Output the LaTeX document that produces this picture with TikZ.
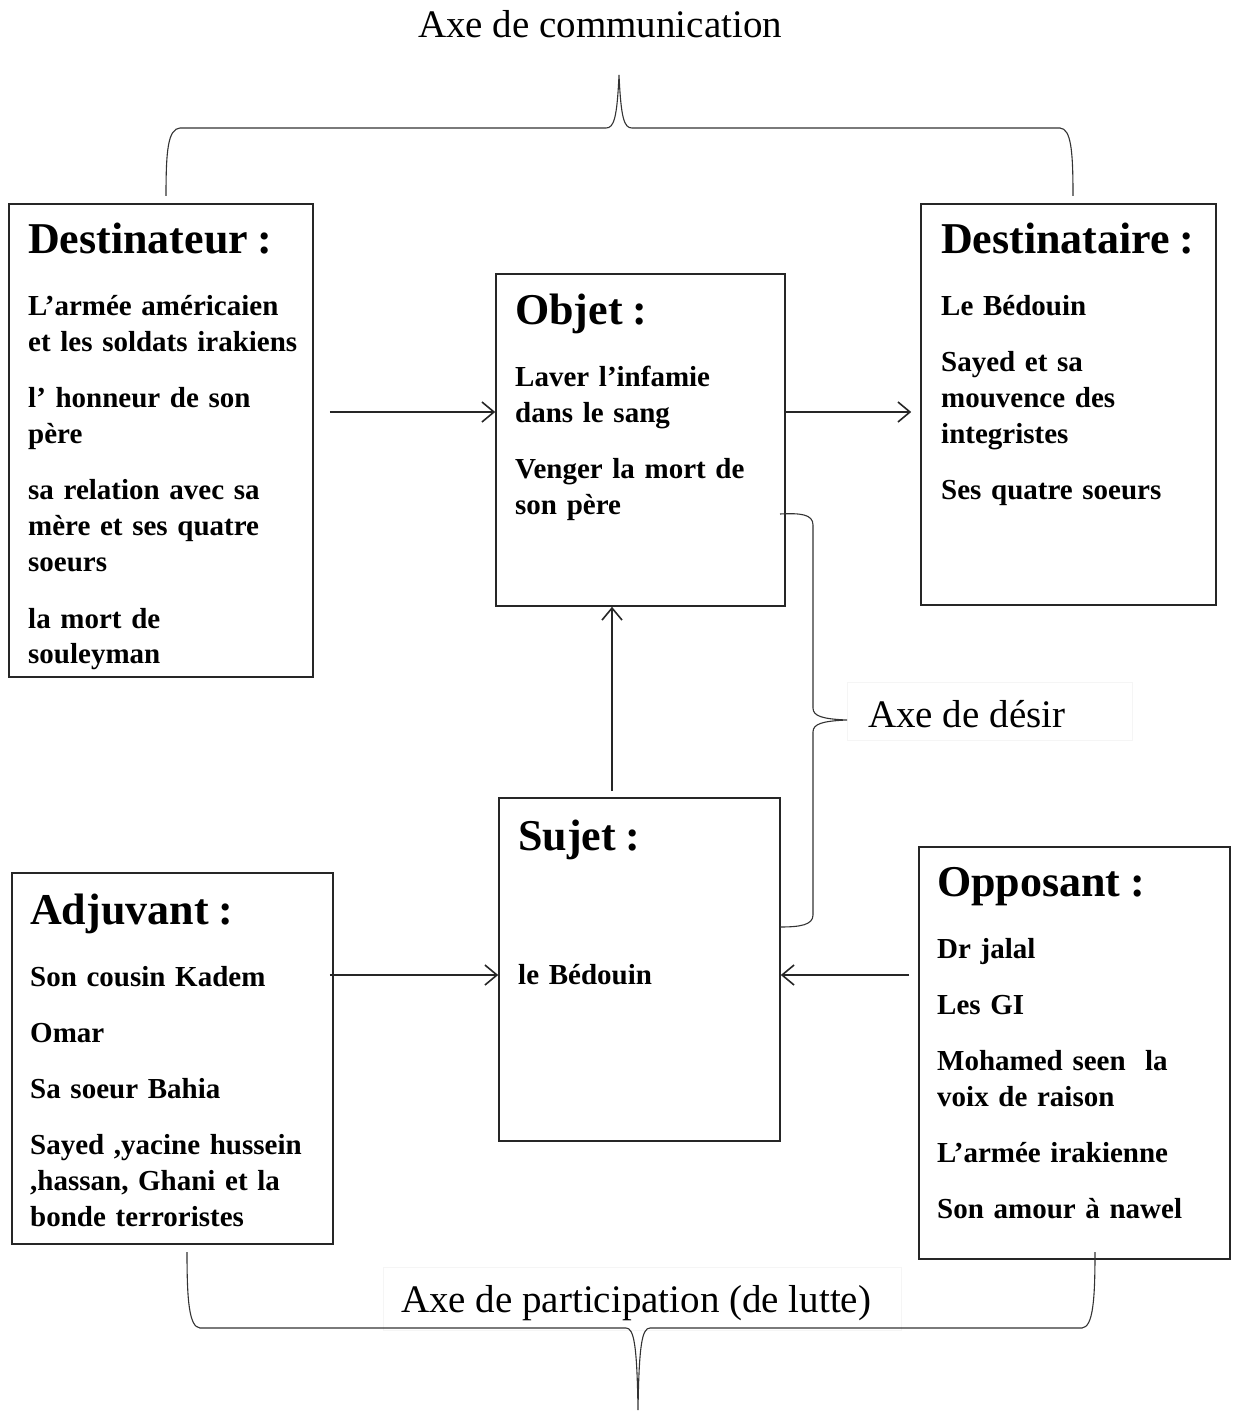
\documentclass[tikz,border=0pt]{standalone}
\usepackage{fontspec}
\setmainfont{Liberation Serif}[BoldFeatures={WordSpace=0.8}]
\usetikzlibrary{arrows.meta,calc}
\newcommand{\ttl}{\fontsize{44}{44}\selectfont\bfseries}
\newcommand{\bodyf}{\fontsize{29}{36}\selectfont\bfseries}
\newcommand{\titlegap}{\par\vspace{26pt}}
\newcommand{\itemgap}{\par\vspace{20pt}}
\tikzset{
  box/.style={draw=black!85, line width=1.6pt, inner sep=0pt},
  txt/.style={anchor=base west, inner sep=0pt, text width=320pt, align=left, font=\bodyf},
  lbl/.style={inner sep=0pt, font=\fontsize{39}{39}\selectfont},
  arr/.style={draw=black!85, line width=1.6pt, -{Straight Barb[length=12pt,width=20pt,line width=1.6pt]}},
  brace/.style={draw=black!80, line width=1.1pt},
  faint/.style={draw=black!4, line width=1pt}
}
\begin{document}
\begin{tikzpicture}[x=1pt,y=-1pt]
\useasboundingbox[fill=white] (0,0) rectangle (1236,1412);

% boxes
\node[box, minimum width=304, minimum height=473] (dest) at (161,440.5) {};
\node[box, minimum width=289, minimum height=332] (obj) at (640.5,440) {};
\node[box, minimum width=295, minimum height=401] (dtaire) at (1068.5,404.5) {};
\node[box, minimum width=281, minimum height=343] (suj) at (639.5,969.5) {};
\node[box, minimum width=321, minimum height=371] (adj) at (172.5,1058.5) {};
\node[box, minimum width=311, minimum height=412] (opp) at (1074.5,1053) {};

% texts
\node[txt] (tdest) at (28,254) {{\ttl Destinateur :}\titlegap
L’armée américaien\\et les soldats irakiens\itemgap
l’ honneur de son\\père\itemgap
sa relation avec sa\\mère et ses quatre\\soeurs\itemgap
la mort de\\souleyman};
\node[txt] (tobj) at (515,324) {{\ttl Objet :}\titlegap
Laver l’infamie\\dans le sang\itemgap
Venger la mort de\\son père};
\node[txt] (tdtaire) at (941,254) {{\ttl Destinataire :}\titlegap
Le Bédouin\itemgap
Sayed et sa\\mouvence des\\integristes\itemgap
Ses quatre soeurs};
\node[txt] (tsuj) at (518,850) {{\ttl Sujet :}\par\vspace{98pt}
le Bédouin};
\node[txt] (tadj) at (30,924) {{\ttl Adjuvant :}\titlegap
Son cousin Kadem\itemgap
Omar\itemgap
Sa soeur Bahia\itemgap
Sayed ,yacine hussein\\,hassan, Ghani et la\\bonde terroristes};
\node[txt] (topp) at (937,896) {{\ttl Opposant :}\titlegap
Dr jalal\itemgap
Les GI\itemgap
Mohamed seen\ \ la\\voix de raison\itemgap
L’armée irakienne\itemgap
Son amour à nawel};

% arrows
\draw[arr] ($(dest.east |- 0,412)+(16,0)$) -- (obj.west |- 0,412);
\draw[arr] (obj.east |- 0,412) -- ($(dtaire.west |- 0,412)+(-9,0)$);
\draw[arr] ($(suj.north -| 612,0)+(0,-6)$) -- (obj.south -| 612,0);
\draw[arr] ($(adj.east |- 0,975)+(-4,0)$) -- (suj.west |- 0,975);
\draw[arr] ($(opp.west |- 0,975)+(-9,0)$) -- (suj.east |- 0,975);

% labels
\node[lbl, anchor=base] (lcom) at (600,38) {Axe de communication};
\draw[faint] (847,682) rectangle (1132,740);
\node[lbl, anchor=base west] (ldes) at (868,727) {Axe de désir};
\draw[faint] (383,1267) rectangle (901,1330);
\node[lbl, anchor=base west] (lpar) at (401,1312) {Axe de participation (de lutte)};

% braces
\draw[brace] (166,196) .. controls (166,150) and (168,129) .. (180,128)
  -- (606,128) .. controls (614,128) and (617,118) .. (619,75)
  .. controls (621,118) and (624,128) .. (632,128)
  -- (1060,128) .. controls (1071,129) and (1073,150) .. (1073,196);
\draw[brace] (780,514) .. controls (800,513) and (813,514) .. (813,525)
  -- (813,708) .. controls (813,716) and (822,719) .. (847,720)
  .. controls (822,721) and (813,724) .. (813,732)
  -- (813,915) .. controls (813,925) and (800,927) .. (780,927);
\draw[brace] (187,1252) .. controls (187,1300) and (189,1327) .. (200,1328)
  -- (626,1328) .. controls (634,1328) and (637,1345) .. (638,1410)
  .. controls (639,1345) and (642,1328) .. (650,1328)
  -- (1082,1328) .. controls (1093,1327) and (1095,1300) .. (1095,1252);
\end{tikzpicture}
\end{document}
